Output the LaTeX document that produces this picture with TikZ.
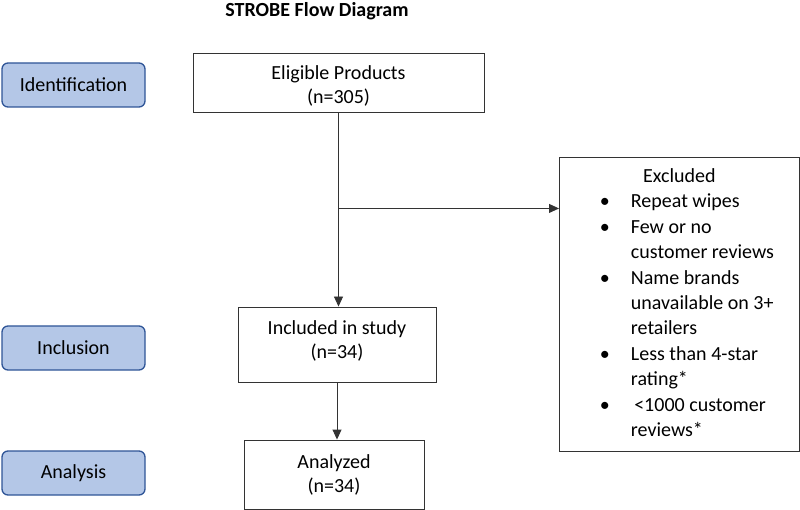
\documentclass[tikz,border=0pt]{standalone}
\usepackage{fontspec}
\setmainfont{Carlito}
\usetikzlibrary{positioning,arrows.meta}

\definecolor{stagefill}{HTML}{B4C7E7}
\definecolor{stageline}{HTML}{2F5597}
\definecolor{boxline}{HTML}{333333}

\tikzset{
   stage/.style = {draw=stageline, fill=stagefill, line width=1.3pt,
      rounded corners=6pt, minimum width=143pt, minimum height=44pt,
      inner sep=0pt},
   flowbox/.style = {draw=boxline, line width=0.9pt, inner sep=0pt,
      align=center},
   flowarrow/.style = {draw=boxline, line width=0.9pt,
      -{Triangle[length=10pt,width=9pt]}}
}
% move the text of a box up or down without moving the box
\newcommand{\nudge}[2]{\raisebox{#1}[\height][\depth]{%
   \begin{tabular}{@{}c@{}}#2\end{tabular}}}

\begin{document}
\begin{tikzpicture}[x=1pt,y=1pt,
      every node/.style={font=\fontsize{20}{24}\selectfont}]
   \useasboundingbox (0,0) rectangle (800,-510);

   % title
   \node[font=\fontsize{20}{24}\selectfont\bfseries] (title) at (317,-11)
      {STROBE Flow Diagram};

   % stages on the left
   \node[stage] (ident) at (73.5,-85)  {Identification};
   \node[stage] (incl)  at (73.5,-348) {Inclusion};
   \node[stage] (anal)  at (73.5,-473) {Analysis};

   % main flow
   \node[flowbox, minimum width=291pt, minimum height=59pt] (elig)
      at (338.5,-82.5) {\nudge{-4pt}{Eligible Products\\(n=305)}};
   \node[flowbox, minimum width=198pt, minimum height=75pt] (study)
      at (337,-344.5) {\nudge{3pt}{Included in study\\(n=34)}};
   \node[flowbox, minimum width=180pt, minimum height=69pt] (analyzed)
      at (334,-474.5) {Analyzed\\(n=34)};

   % exclusions
   \node[flowbox, minimum width=240pt, minimum height=294pt, anchor=north west,
      font=\fontsize{20}{25.4}\selectfont] (excl) at (559,-157) {%
      \begin{tabular}{@{}p{25pt}@{\hspace{21pt}}l@{}}
         \multicolumn{2}{@{}c@{}}{Excluded}\\
         \hfill\textbullet & Repeat wipes\\
         \hfill\textbullet & Few or no\\
                           & customer reviews\\
         \hfill\textbullet & Name brands\\
                           & unavailable on 3+\\
                           & retailers\\
         \hfill\textbullet & Less than 4-star\\
                           & rating*\\
         \hfill\textbullet & \,<1000 customer\\
                           & reviews*
      \end{tabular}};

   % branch point to the exclusions
   \coordinate (split) at ([yshift=-96pt]elig.south);
   \coordinate (exin) at (excl.west |- split);

   \draw[flowarrow] (elig.south) -- (elig.south |- study.north);
   \draw[flowarrow] (split) -- (exin);
   \draw[flowarrow] (study.south) -- (study.south |- analyzed.north);
\end{tikzpicture}
\end{document}
